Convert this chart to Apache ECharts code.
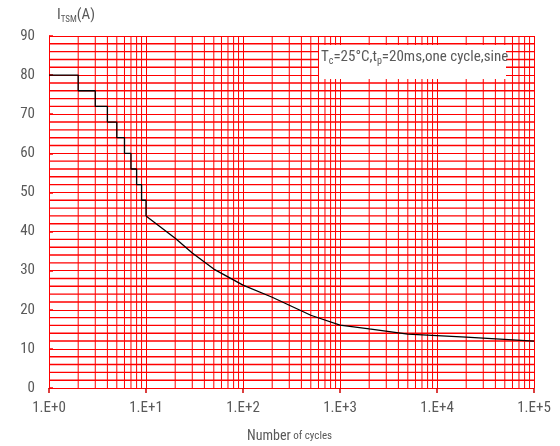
<!DOCTYPE html>
<html>
<head>
<meta charset="utf-8">
<script src="https://cdn.jsdelivr.net/npm/echarts@6/dist/echarts.min.js"></script>
<style>
html,body{margin:0;padding:0;background:#fff;}
#c{width:560px;height:446px;}
</style>
</head>
<body>
<div id="c"></div>
<script>
// Step portion (number of cycles, I_TSM)
var stepX = [1, 2, 3, 4, 5, 6, 7, 8, 9, 10];
var stepY = [80, 76, 72, 68, 64, 60, 56, 52, 48, 44];
// Curve portion
var curveX = [10, 20, 30, 50, 100, 200, 500, 1000, 2000, 5000, 20000, 100000];
var curveY = [44, 38.3, 34.5, 30.4, 26.3, 23.2, 18.6, 16.1, 15.1, 13.8, 13.0, 12.0];
// Axis ticks
var yMin = 0, yMax = 90, yMajor = 10, yMinor = 2;
var decades = [1, 10, 100, 1000, 10000, 100000];
var minorMult = [2, 3, 4, 5, 6, 7, 8, 9];

var FONT = "'Liberation Sans Narrow', 'Roboto Condensed', 'Liberation Sans', sans-serif";
var GRAY = '#595959';
var RED = '#ff0000';
var xMin = decades[0], xMax = decades[decades.length - 1];

var minorX = [];
for (var i = 0; i < decades.length - 1; i++) {
  for (var j = 0; j < minorMult.length; j++) {
    minorX.push([decades[i] * minorMult[j], yMin]);
  }
}
var minorY = [];
for (var v = yMin + yMinor; v < yMax; v += yMinor) {
  if (v % yMajor !== 0) minorY.push([xMin, v]);
}

var stepData = stepX.map(function (x, i) { return [x, stepY[i]]; });
var curveData = curveX.map(function (x, i) { return [x, curveY[i]]; });

var chart = echarts.init(document.getElementById('c'), null, {renderer: 'canvas'});
chart.setOption({
  animation: false,
  backgroundColor: '#fff',
  grid: {left: 49, right: 26, top: 36, bottom: 58, containLabel: false},
  xAxis: {
    type: 'log',
    logBase: 10,
    min: xMin,
    max: xMax,
    splitNumber: 5,
    axisLine: {show: true, lineStyle: {color: RED, width: 1}},
    axisTick: {show: true, length: 5, lineStyle: {color: '#d00000', width: 1.5}},
    axisLabel: {
      color: GRAY, fontFamily: FONT, fontSize: 15, margin: 13,
      formatter: function (val) { return '1.E+' + Math.round(Math.log10(val)); }
    },
    splitLine: {show: true, lineStyle: {color: RED, width: 1}}
  },
  yAxis: {
    type: 'value',
    min: yMin, max: yMax, interval: yMajor,
    axisLine: {show: true, lineStyle: {color: RED, width: 1}},
    axisTick: {show: true, inside: true, length: 4, lineStyle: {color: RED, width: 1.5}},
    axisLabel: {color: GRAY, fontFamily: FONT, fontSize: 15, margin: 14},
    splitLine: {show: true, lineStyle: {color: RED, width: 1}}
  },
  series: [
    {
      type: 'custom',
      data: minorX,
      encode: {x: 0, y: 1},
      silent: true,
      z: 1,
      renderItem: function (params, api) {
        var x = api.value(0);
        var p0 = api.coord([x, yMin]);
        var p1 = api.coord([x, yMax]);
        return {
          type: 'line',
          shape: {x1: p0[0], y1: p0[1], x2: p1[0], y2: p1[1]},
          style: {stroke: RED, lineWidth: 1}
        };
      }
    },
    {
      type: 'custom',
      data: minorY,
      encode: {x: 0, y: 1},
      silent: true,
      z: 1,
      renderItem: function (params, api) {
        var y = api.value(1);
        var p0 = api.coord([xMin, y]);
        var p1 = api.coord([xMax, y]);
        return {
          type: 'line',
          shape: {x1: p0[0], y1: p0[1], x2: p1[0], y2: p1[1]},
          style: {stroke: RED, lineWidth: 1.4}
        };
      }
    },
    {
      type: 'line',
      data: stepData,
      step: 'end',
      symbol: 'none',
      lineStyle: {color: '#000', width: 1.3},
      z: 5
    },
    {
      type: 'line',
      data: curveData,
      smooth: false,
      symbol: 'none',
      lineStyle: {color: '#000', width: 1.3},
      z: 5
    }
  ],
  graphic: [
    {
      type: 'rect', left: 319, top: 45, z: 10,
      shape: {width: 187, height: 34},
      style: {fill: '#fff'}
    },
    {
      type: 'text', left: 321, top: 50, z: 11,
      style: {
        text: 'T{s|c}=25°C,t{s|p}=20ms,one cycle,sine',
        fill: GRAY, font: '15px ' + FONT,
        rich: {s: {fontSize: 10, fontFamily: FONT, fill: GRAY, verticalAlign: 'bottom', padding: [8, 0, 0, 0]}}
      }
    },
    {
      type: 'text', left: 57, top: 8, z: 11,
      style: {
        text: 'I{s|TSM}(A)',
        fill: GRAY, font: '15px ' + FONT,
        rich: {s: {fontSize: 9, fontFamily: FONT, fill: GRAY, verticalAlign: 'bottom', padding: [8, 0, 0, 0]}}
      }
    },
    {
      type: 'text', left: 247, top: 429, z: 11,
      style: {
        text: 'Number{s| of cycles}',
        fill: GRAY, font: '14px ' + FONT,
        rich: {s: {fontSize: 11, fontFamily: FONT, fill: GRAY}}
      }
    }
  ]
});
</script>
</body>
</html>
